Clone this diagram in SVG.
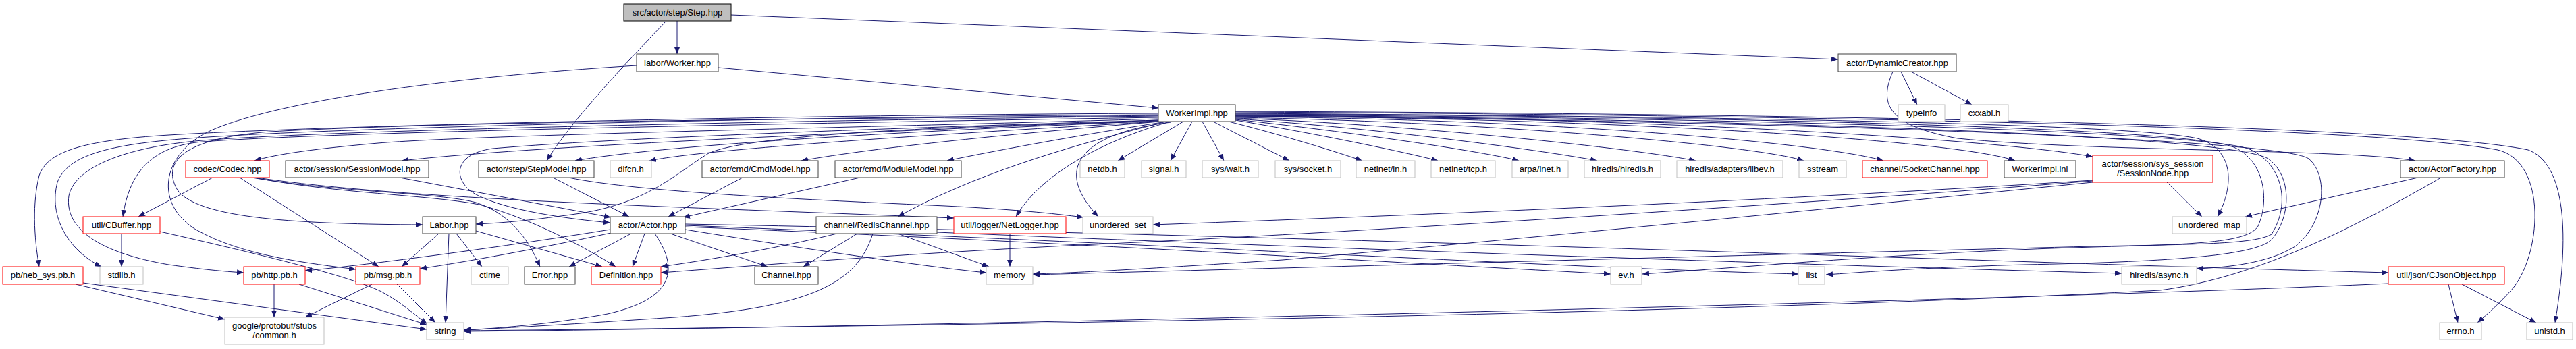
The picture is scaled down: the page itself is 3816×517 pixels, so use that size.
<svg xmlns="http://www.w3.org/2000/svg" width="3816" height="517" viewBox="0 0 3816 517">
<style>
.n rect{fill:#fff;stroke-width:1}
.b rect{stroke:#404040}
.g rect{stroke:#bfbfbf}
.r rect{stroke:#ff0000}
.root rect{fill:#bfbfbf;stroke:#000}
.n text{font-family:"Liberation Sans",Arial,sans-serif;font-size:13px;fill:#000;text-anchor:middle}
#edges path{fill:none;stroke:#191970;stroke-width:1;marker-end:url(#ah)}
</style>
<defs>
<marker id="ah" viewBox="0 0 10 8" refX="10" refY="4" markerWidth="10" markerHeight="8" orient="auto" markerUnits="userSpaceOnUse"><path d="M0,0L10,4L0,8z" fill="#191970"/></marker>
</defs>
<rect width="3816" height="517" fill="#fff"/>
<g id="edges">
<path d="M1003,31 L1003,80"/>
<path d="M987,31 C935,85 845,180 810,238"/>
<path d="M1083,22 L2723,88"/>
<path d="M1064,100 L1716,160"/>
<path d="M943,97 C650,115 420,150 320,190 C240,222 225,300 290,340 C360,380 460,390 527,399"/>
<path d="M1716,171 C1300,176 700,178 400,195 C270,205 240,240 262,280 C290,325 450,332 626,333"/>
<path d="M1716,168 C1200,170 500,185 250,200 C120,208 70,225 58,260 C48,300 50,350 58,395"/>
<path d="M1716,170 C1200,173 500,188 280,205 C160,214 100,230 85,270 C72,320 100,370 150,395"/>
<path d="M1716,172 C1200,178 500,192 300,208 C180,218 110,250 102,290 C95,340 150,375 250,392 C300,399 330,402 361,404"/>
<path d="M1716,174 C1200,182 500,195 300,210 C230,216 192,250 182,321"/>
<path d="M1716,176 C1300,188 700,200 560,212 C470,220 410,228 377,238"/>
<path d="M1716,178 C1300,195 800,215 595,238"/>
<path d="M1716,179 C1400,192 1000,212 852,238"/>
<path d="M1716,178 C1300,190 900,205 730,220 C670,228 670,268 705,288 C750,312 840,324 904,330"/>
<path d="M1716,180 C1400,198 1050,220 962,238"/>
<path d="M1716,180 C1400,186 1100,200 1048,228 C1000,258 960,300 860,316 C790,326 750,330 705,332"/>
<path d="M1718,180 C1500,198 1300,218 1187,238"/>
<path d="M1722,181 C1600,200 1480,222 1403,238"/>
<path d="M1724,181 C1570,220 1440,260 1330,321"/>
<path d="M1730,181 C1630,210 1540,260 1505,321"/>
<path d="M1735,181 C1620,195 1550,240 1627,321"/>
<path d="M1753,180 L1656,238"/>
<path d="M1766,180 L1734,238"/>
<path d="M1781,180 L1813,238"/>
<path d="M1797,180 L1910,238"/>
<path d="M1820,180 C1900,200 1980,225 2018,238"/>
<path d="M1830,178 C1950,198 2080,225 2130,238"/>
<path d="M1830,177 C2000,195 2200,225 2250,238"/>
<path d="M1830,176 C2050,190 2300,225 2366,238"/>
<path d="M1830,175 C2100,185 2420,220 2512,238"/>
<path d="M1830,174 C2200,180 2600,215 2672,238"/>
<path d="M1830,173 C2300,176 2700,212 2790,238"/>
<path d="M1830,172 C2400,175 2900,208 2985,238"/>
<path d="M1830,171 C2400,172 2950,205 3100,232"/>
<path d="M1830,168 C2500,172 3150,182 3255,205 C3310,220 3310,275 3285,321"/>
<path d="M1830,169 C2600,172 3200,190 3300,215 C3350,228 3365,290 3345,335 C3330,360 3250,362 3100,366 C2800,375 2600,395 2433,406"/>
<path d="M1830,170 C2600,174 3250,195 3330,220 C3380,240 3395,300 3365,347 C3340,362 3250,362 3100,365 C2500,380 1800,400 1530,407"/>
<path d="M1830,171 C2600,176 3300,200 3360,235 C3395,260 3395,320 3365,355 C3340,380 3200,388 3000,392 C2850,396 2750,404 2705,407"/>
<path d="M1830,172 C2600,178 3380,205 3420,235 C3450,260 3445,330 3400,365 C3360,390 3300,396 3254,398"/>
<path d="M1830,166 C2600,170 3500,185 3700,222 C3775,240 3765,380 3720,430 C3700,452 3685,465 3670,478"/>
<path d="M1830,165 C2600,168 3560,183 3745,222 C3795,240 3810,330 3785,478"/>
<path d="M2816,106 L2840,155"/>
<path d="M2831,106 L2921,155"/>
<path d="M2804,106 C2785,150 2790,185 2900,205 C3100,225 3470,220 3578,238"/>
<path d="M3582,263 L3326,321"/>
<path d="M3616,263 C3500,330 3350,410 3200,430 C2500,468 1200,485 687,490"/>
<path d="M3210,270 L3262,321"/>
<path d="M3100,267 C2700,293 2200,315 1708,333"/>
<path d="M3100,268 C2700,300 2000,345 1600,363 C1300,378 1100,395 979,404"/>
<path d="M3100,270 C2800,300 2300,350 1900,385 C1700,398 1600,404 1530,406"/>
<path d="M3538,420 C3000,445 1300,486 687,491"/>
<path d="M3627,421 L3641,478"/>
<path d="M3647,421 L3757,478"/>
<path d="M1240,346 C1150,368 1050,385 979,395"/>
<path d="M1270,346 L1190,395"/>
<path d="M1293,346 C1270,420 1200,455 1000,470 C850,480 750,486 687,489"/>
<path d="M1330,346 L1465,395"/>
<path d="M1388,344 C2000,370 2800,396 3143,405"/>
<path d="M904,340 C750,365 550,392 452,401"/>
<path d="M905,345 C800,368 690,388 622,398"/>
<path d="M935,346 L843,395"/>
<path d="M955,346 L937,395"/>
<path d="M970,346 C1000,390 1010,440 900,465 C820,480 730,487 687,489"/>
<path d="M993,346 L1137,395"/>
<path d="M1015,340 C1200,370 1380,396 1461,404"/>
<path d="M1015,336 C1500,355 2000,385 2386,406"/>
<path d="M1015,334 C1700,360 2300,396 2664,406"/>
<path d="M1015,332 C2000,350 3000,390 3538,404"/>
<path d="M650,346 L595,395"/>
<path d="M665,346 L660,478"/>
<path d="M676,346 L714,395"/>
<path d="M705,342 L892,395"/>
<path d="M315,263 L205,321"/>
<path d="M355,263 L561,395"/>
<path d="M373,263 C500,285 650,285 705,300 C760,318 785,360 800,395"/>
<path d="M376,263 C500,287 630,288 710,303 C790,325 870,368 912,395"/>
<path d="M380,263 C600,296 1000,306 1413,323"/>
<path d="M592,263 L905,322"/>
<path d="M819,263 L932,321"/>
<path d="M842,263 C950,285 1200,296 1400,305 C1500,310 1560,316 1605,322"/>
<path d="M1100,263 L990,321"/>
<path d="M1274,263 L1012,322"/>
<path d="M1496,346 L1496,395"/>
<path d="M180,346 L180,395"/>
<path d="M237,343 C400,380 520,410 565,432 C595,448 612,465 633,480"/>
<path d="M112,421 L333,473"/>
<path d="M123,419 L632,488"/>
<path d="M406,421 L406,470"/>
<path d="M443,421 L632,481"/>
<path d="M551,421 L452,470"/>
<path d="M588,421 L645,478"/>
</g>
<g id="n_step" class="n root"><rect x="924" y="6" width="159" height="25"/><text x="1003.5" y="23">src/actor/step/Step.hpp</text></g>
<g id="n_worker" class="n b"><rect x="943" y="80" width="121" height="26"/><text x="1003.5" y="98">labor/Worker.hpp</text></g>
<g id="n_dyncreator" class="n b"><rect x="2723" y="80" width="175" height="26"/><text x="2810.5" y="98">actor/DynamicCreator.hpp</text></g>
<g id="n_workerimpl" class="n b"><rect x="1716" y="155" width="114" height="25"/><text x="1773" y="172">WorkerImpl.hpp</text></g>
<g id="n_typeinfo" class="n g"><rect x="2812" y="155" width="69" height="25"/><text x="2846.5" y="172">typeinfo</text></g>
<g id="n_cxxabi" class="n g"><rect x="2904" y="155" width="71" height="25"/><text x="2939.5" y="172">cxxabi.h</text></g>
<g id="n_codec" class="n r"><rect x="275" y="238" width="124" height="25"/><text x="337" y="255">codec/Codec.hpp</text></g>
<g id="n_sessionmodel" class="n b"><rect x="423" y="238" width="212" height="25"/><text x="529" y="255">actor/session/SessionModel.hpp</text></g>
<g id="n_stepmodel" class="n b"><rect x="709" y="238" width="171" height="25"/><text x="794.5" y="255">actor/step/StepModel.hpp</text></g>
<g id="n_dlfcn" class="n g"><rect x="904" y="238" width="61" height="25"/><text x="934.5" y="255">dlfcn.h</text></g>
<g id="n_cmdmodel" class="n b"><rect x="1040" y="238" width="172" height="25"/><text x="1126" y="255">actor/cmd/CmdModel.hpp</text></g>
<g id="n_modulemodel" class="n b"><rect x="1237" y="238" width="187" height="25"/><text x="1330.5" y="255">actor/cmd/ModuleModel.hpp</text></g>
<g id="n_netdb" class="n g"><rect x="1600" y="238" width="66" height="25"/><text x="1633" y="255">netdb.h</text></g>
<g id="n_signal" class="n g"><rect x="1691" y="238" width="66" height="25"/><text x="1724" y="255">signal.h</text></g>
<g id="n_syswait" class="n g"><rect x="1781" y="238" width="83" height="25"/><text x="1822.5" y="255">sys/wait.h</text></g>
<g id="n_syssocket" class="n g"><rect x="1889" y="238" width="97" height="25"/><text x="1937.5" y="255">sys/socket.h</text></g>
<g id="n_netinetin" class="n g"><rect x="2009" y="238" width="87" height="25"/><text x="2052.5" y="255">netinet/in.h</text></g>
<g id="n_netinettcp" class="n g"><rect x="2120" y="238" width="95" height="25"/><text x="2167.5" y="255">netinet/tcp.h</text></g>
<g id="n_arpainet" class="n g"><rect x="2240" y="238" width="83" height="25"/><text x="2281.5" y="255">arpa/inet.h</text></g>
<g id="n_hiredis" class="n g"><rect x="2347" y="238" width="113" height="25"/><text x="2403.5" y="255">hiredis/hiredis.h</text></g>
<g id="n_libev" class="n g"><rect x="2484" y="238" width="157" height="25"/><text x="2562.5" y="255">hiredis/adapters/libev.h</text></g>
<g id="n_sstream" class="n g"><rect x="2665" y="238" width="70" height="25"/><text x="2700" y="255">sstream</text></g>
<g id="n_socketchannel" class="n r"><rect x="2759" y="238" width="185" height="25"/><text x="2851.5" y="255">channel/SocketChannel.hpp</text></g>
<g id="n_workerimplinl" class="n b"><rect x="2969" y="238" width="106" height="25"/><text x="3022" y="255">WorkerImpl.inl</text></g>
<g id="n_sessionnode" class="n r"><rect x="3100" y="230" width="178" height="40"/><text x="3189" y="247">actor/session/sys_session</text><text x="3189" y="261">/SessionNode.hpp</text></g>
<g id="n_actorfactory" class="n b"><rect x="3556" y="238" width="154" height="25"/><text x="3633" y="255">actor/ActorFactory.hpp</text></g>
<g id="n_cbuffer" class="n r"><rect x="123" y="321" width="114" height="25"/><text x="180" y="338">util/CBuffer.hpp</text></g>
<g id="n_labor" class="n b"><rect x="626" y="321" width="79" height="25"/><text x="665.5" y="338">Labor.hpp</text></g>
<g id="n_actor" class="n b"><rect x="904" y="321" width="111" height="25"/><text x="959.5" y="338">actor/Actor.hpp</text></g>
<g id="n_redischannel" class="n b"><rect x="1209" y="321" width="179" height="25"/><text x="1298.5" y="338">channel/RedisChannel.hpp</text></g>
<g id="n_netlogger" class="n r"><rect x="1413" y="321" width="166" height="25"/><text x="1496" y="338">util/logger/NetLogger.hpp</text></g>
<g id="n_unordered_set" class="n g"><rect x="1604" y="321" width="104" height="25"/><text x="1656" y="338">unordered_set</text></g>
<g id="n_unordered_map" class="n g"><rect x="3218" y="321" width="110" height="25"/><text x="3273" y="338">unordered_map</text></g>
<g id="n_nebsys" class="n r"><rect x="4" y="395" width="119" height="26"/><text x="63.5" y="412">pb/neb_sys.pb.h</text></g>
<g id="n_stdlib" class="n g"><rect x="148" y="395" width="64" height="26"/><text x="180" y="412">stdlib.h</text></g>
<g id="n_http" class="n r"><rect x="361" y="395" width="91" height="26"/><text x="406.5" y="412">pb/http.pb.h</text></g>
<g id="n_msg" class="n r"><rect x="527" y="395" width="95" height="26"/><text x="574.5" y="412">pb/msg.pb.h</text></g>
<g id="n_ctime" class="n g"><rect x="698" y="395" width="55" height="26"/><text x="725.5" y="412">ctime</text></g>
<g id="n_error" class="n b"><rect x="777" y="395" width="75" height="26"/><text x="814.5" y="412">Error.hpp</text></g>
<g id="n_definition" class="n r"><rect x="876" y="395" width="103" height="26"/><text x="927.5" y="412">Definition.hpp</text></g>
<g id="n_channel" class="n b"><rect x="1118" y="395" width="94" height="26"/><text x="1165" y="412">Channel.hpp</text></g>
<g id="n_memory" class="n g"><rect x="1461" y="395" width="69" height="26"/><text x="1495.5" y="412">memory</text></g>
<g id="n_evh" class="n g"><rect x="2386" y="395" width="46" height="26"/><text x="2409" y="412">ev.h</text></g>
<g id="n_list" class="n g"><rect x="2664" y="395" width="39" height="26"/><text x="2683.5" y="412">list</text></g>
<g id="n_async" class="n g"><rect x="3143" y="395" width="111" height="26"/><text x="3198.5" y="412">hiredis/async.h</text></g>
<g id="n_cjson" class="n r"><rect x="3538" y="395" width="172" height="26"/><text x="3624" y="412">util/json/CJsonObject.hpp</text></g>
<g id="n_common" class="n g"><rect x="333" y="470" width="147" height="40"/><text x="406.5" y="487">google/protobuf/stubs</text><text x="406.5" y="501">/common.h</text></g>
<g id="n_string" class="n g"><rect x="632" y="478" width="55" height="25"/><text x="659.5" y="495">string</text></g>
<g id="n_errno" class="n g"><rect x="3614" y="478" width="62" height="25"/><text x="3645" y="495">errno.h</text></g>
<g id="n_unistd" class="n g"><rect x="3743" y="478" width="68" height="25"/><text x="3777" y="495">unistd.h</text></g>
</svg>
